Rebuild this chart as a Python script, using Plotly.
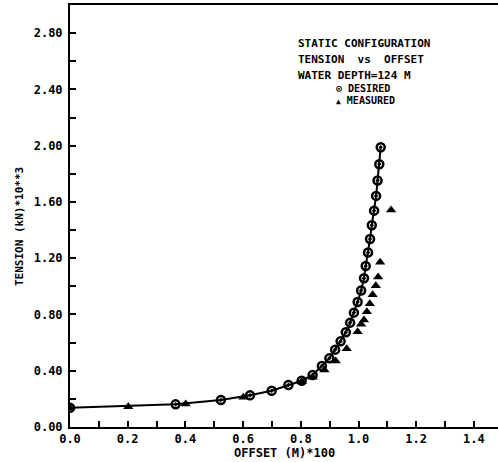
import plotly.graph_objects as go

# Desired (circles, solid line)
desired_x = [0.0, 0.366, 0.523, 0.624, 0.699, 0.757, 0.803, 0.841, 0.873, 0.899,
             0.919, 0.938, 0.956, 0.971, 0.984, 0.997, 1.009, 1.019, 1.025, 1.033,
             1.040, 1.046, 1.054, 1.061, 1.066, 1.072, 1.077]
desired_y = [0.137, 0.161, 0.192, 0.225, 0.258, 0.299, 0.329, 0.370, 0.434, 0.488,
             0.550, 0.609, 0.673, 0.742, 0.813, 0.889, 0.970, 1.057, 1.145, 1.240,
             1.337, 1.434, 1.538, 1.643, 1.752, 1.868, 1.989]

# Measured (triangles)
measured_x = [0.0, 0.202, 0.401, 0.601, 0.803, 0.841, 0.882, 0.921, 0.959, 0.997, 1.009,
              1.019, 1.029, 1.039, 1.049, 1.060, 1.068, 1.075, 1.113]
measured_y = [0.137, 0.144, 0.163, 0.211, 0.322, 0.353, 0.405, 0.469, 0.557, 0.678, 0.730,
              0.761, 0.820, 0.877, 0.941, 1.005, 1.067, 1.171, 1.543]

title_lines = ["STATIC CONFIGURATION", "TENSION  vs  OFFSET", "WATER DEPTH=124 M"]
legend_labels = ["DESIRED", "MEASURED"]
x_title = "OFFSET (M)*100"
y_title = "TENSION (kN)*10**3"

FONT = "DejaVu Sans Mono"
W, H = 498, 462
ML, MR, MT, MB = 70, 0, 5, 35
PH = H - MT - MB          # plot height in px
YMAX = 3.0


def py(px):
    """pixel row -> data y (for text placement only)"""
    return (H - MB - px) / PH * YMAX


fig = go.Figure()
fig.add_trace(go.Scatter(
    x=desired_x, y=desired_y, mode="lines+markers",
    line=dict(color="black", width=2),
    marker=dict(symbol="circle-open-dot", size=8, color="black",
                line=dict(color="black", width=2.5)),
    showlegend=False))
fig.add_trace(go.Scatter(
    x=measured_x, y=measured_y, mode="markers",
    marker=dict(symbol="triangle-up", size=9, color="black"),
    showlegend=False))

tickfont = dict(family=FONT, size=12, color="black", weight="bold")

fig.update_xaxes(
    range=[0, 1.4835], tickmode="linear", tick0=0, dtick=0.2, tickformat=".1f",
    ticks="inside", ticklen=6, tickwidth=1.5, tickcolor="black",
    minor=dict(dtick=0.1, ticks="inside", ticklen=6, tickwidth=1.5, tickcolor="black"),
    showline=True, linecolor="black", linewidth=2, mirror=True,
    showgrid=False, zeroline=False, tickfont=tickfont)
fig.update_yaxes(
    range=[0, YMAX], tickmode="linear", tick0=0, dtick=0.4, tickformat=".2f",
    ticks="inside", ticklen=6, tickwidth=1.5, tickcolor="black",
    minor=dict(dtick=0.2, ticks="inside", ticklen=6, tickwidth=1.5, tickcolor="black"),
    showline=True, linecolor="black", linewidth=2, mirror=False,
    showgrid=False, zeroline=False, tickfont=tickfont, ticklabelstandoff=3)

annfont = dict(family=FONT, size=11, color="black", weight="bold")
legfont = dict(family=FONT, size=10, color="black", weight="bold")
anns = []
for i, t in enumerate(title_lines):
    anns.append(dict(x=0.783, y=py(43 + 16 * i), xref="x", yref="y",
                     text=t, showarrow=False, xanchor="left", yanchor="middle",
                     font=annfont))
anns.append(dict(x=0.915, y=py(88), xref="x", yref="y",
                 text="<span style='font-size:10px'>⊙</span> " + legend_labels[0],
                 showarrow=False, xanchor="left", yanchor="middle", font=legfont))
anns.append(dict(x=0.915, y=py(100), xref="x", yref="y",
                 text="<span style='font-size:8px'>▲</span> " + legend_labels[1],
                 showarrow=False, xanchor="left", yanchor="middle", font=legfont))
# axis titles
anns.append(dict(x=0.5, y=-(453 - (H - MB)) / PH, xref="paper", yref="paper",
                 text=x_title, showarrow=False, xanchor="center", yanchor="middle",
                 font=dict(family=FONT, size=12, color="black", weight="bold")))
anns.append(dict(x=-(70 - 19) / (W - ML - MR), y=(427 - 227) / PH,
                 xref="paper", yref="paper", text=y_title, textangle=-90,
                 showarrow=False, xanchor="center", yanchor="middle",
                 font=dict(family=FONT, size=11, color="black", weight="bold")))

fig.update_layout(
    width=W, height=H, margin=dict(l=ML, r=MR, t=MT, b=MB, pad=0),
    plot_bgcolor="white", paper_bgcolor="white", annotations=anns)

fig.write_html("out.html")
